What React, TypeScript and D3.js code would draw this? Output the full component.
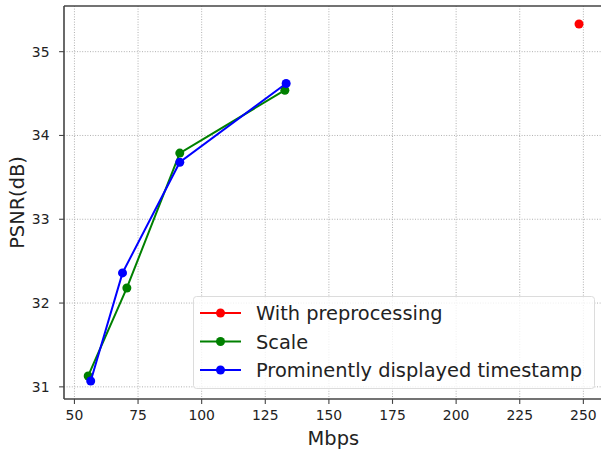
import { useEffect, useRef } from "react";
import * as d3 from "d3";

const withPreX = [248.3];
const withPreY = [35.33];
const scaleX = [55.4, 70.6, 91.4, 132.7];
const scaleY = [31.13, 32.18, 33.79, 34.54];
const stampX = [56.4, 68.9, 91.4, 133.2];
const stampY = [31.07, 32.36, 33.68, 34.62];
const xTicks = [50, 75, 100, 125, 150, 175, 200, 225, 250];
const yTicks = [31, 32, 33, 34, 35];
const seriesNames = ["With preprocessing", "Scale", "Prominently displayed timestamp"];
const seriesColors = ["#ff0000", "#008000", "#0000ff"];

const W = 601;
const H = 451;
const FONT = "DejaVu Sans, sans-serif";

function App() {
  const ref = useRef<SVGSVGElement>(null);

  useEffect(() => {
    const svg = d3.select(ref.current);
    svg.selectAll("*").remove();

    const left = 64, right = 602.7, top = 6, bottom = 399;
    const x = d3.scaleLinear().domain([45.9, 257.6]).range([left, right]);
    const y = d3.scaleLinear().domain([30.855, 35.545]).range([bottom, top]);

    const series = [
      { xs: withPreX, ys: withPreY },
      { xs: scaleX, ys: scaleY },
      { xs: stampX, ys: stampY },
    ];

    // grid
    const grid = svg.append("g");
    xTicks.forEach((t) => {
      grid.append("line")
        .attr("x1", x(t)).attr("x2", x(t)).attr("y1", top).attr("y2", bottom)
        .attr("stroke", "#b0b0b0").attr("stroke-width", 1).attr("stroke-dasharray", "1,1.6");
    });
    yTicks.forEach((t) => {
      grid.append("line")
        .attr("x1", left).attr("x2", right).attr("y1", y(t)).attr("y2", y(t))
        .attr("stroke", "#b0b0b0").attr("stroke-width", 1).attr("stroke-dasharray", "1,1.6");
    });

    // series
    series.forEach((s, k) => {
      const pts: [number, number][] = s.xs.map((v, i) => [x(v), y(s.ys[i])]);
      svg.append("path")
        .attr("d", d3.line()(pts) || "")
        .attr("fill", "none").attr("stroke", seriesColors[k]).attr("stroke-width", 2);
      pts.forEach((p) => {
        svg.append("circle").attr("cx", p[0]).attr("cy", p[1]).attr("r", 4.5)
          .attr("fill", seriesColors[k]);
      });
    });

    // spines
    const sp = "#444";
    svg.append("line").attr("x1", left).attr("x2", left).attr("y1", top).attr("y2", bottom)
      .attr("stroke", sp).attr("stroke-width", 1.6);
    svg.append("line").attr("x1", left).attr("x2", right).attr("y1", bottom).attr("y2", bottom)
      .attr("stroke", sp).attr("stroke-width", 1.6);
    svg.append("line").attr("x1", left).attr("x2", right).attr("y1", top).attr("y2", top)
      .attr("stroke", sp).attr("stroke-width", 1.6);
    svg.append("line").attr("x1", right).attr("x2", right).attr("y1", top).attr("y2", bottom)
      .attr("stroke", sp).attr("stroke-width", 1.6);

    // ticks
    xTicks.forEach((t) => {
      svg.append("line").attr("x1", x(t)).attr("x2", x(t)).attr("y1", bottom).attr("y2", bottom + 4.9)
        .attr("stroke", sp).attr("stroke-width", 1.1);
      svg.append("text").attr("x", x(t)).attr("y", bottom + 20.5)
        .attr("text-anchor", "middle").attr("font-family", FONT).attr("font-size", 13.9)
        .attr("fill", "#222").text(String(t));
    });
    yTicks.forEach((t) => {
      svg.append("line").attr("x1", left - 4.9).attr("x2", left).attr("y1", y(t)).attr("y2", y(t))
        .attr("stroke", sp).attr("stroke-width", 1.1);
      svg.append("text").attr("x", left - 14.5).attr("y", y(t) + 5)
        .attr("text-anchor", "end").attr("font-family", FONT).attr("font-size", 13.9)
        .attr("fill", "#222").text(String(t));
    });

    // axis labels
    svg.append("text").attr("x", (left + right) / 2).attr("y", 445)
      .attr("text-anchor", "middle").attr("font-family", FONT).attr("font-size", 19.4)
      .attr("fill", "#222").text("Mbps");
    svg.append("text").attr("transform", `translate(24,${(top + bottom) / 2}) rotate(-90)`)
      .attr("text-anchor", "middle").attr("font-family", FONT).attr("font-size", 19.4)
      .attr("fill", "#222").text("PSNR(dB)");

    // legend
    const lg = svg.append("g");
    lg.append("rect").attr("x", 193.5).attr("y", 296.5).attr("width", 401).attr("height", 92)
      .attr("rx", 3).attr("fill", "white").attr("fill-opacity", 0.8)
      .attr("stroke", "#dcdcdc").attr("stroke-width", 1);
    seriesNames.forEach((name, k) => {
      const cy = 313 + k * 28.5;
      lg.append("line").attr("x1", 200).attr("x2", 241).attr("y1", cy).attr("y2", cy)
        .attr("stroke", seriesColors[k]).attr("stroke-width", 2);
      lg.append("circle").attr("cx", 220.5).attr("cy", cy).attr("r", 4.5).attr("fill", seriesColors[k]);
      lg.append("text").attr("x", 256).attr("y", cy + 7)
        .attr("font-family", FONT).attr("font-size", 19.4).attr("fill", "#222").text(name);
    });
  }, []);

  return (
    <svg ref={ref} width={W} height={H}
      style={{ position: "absolute", left: 0, top: 0, background: "white" }} />
  );
}

export default App;
